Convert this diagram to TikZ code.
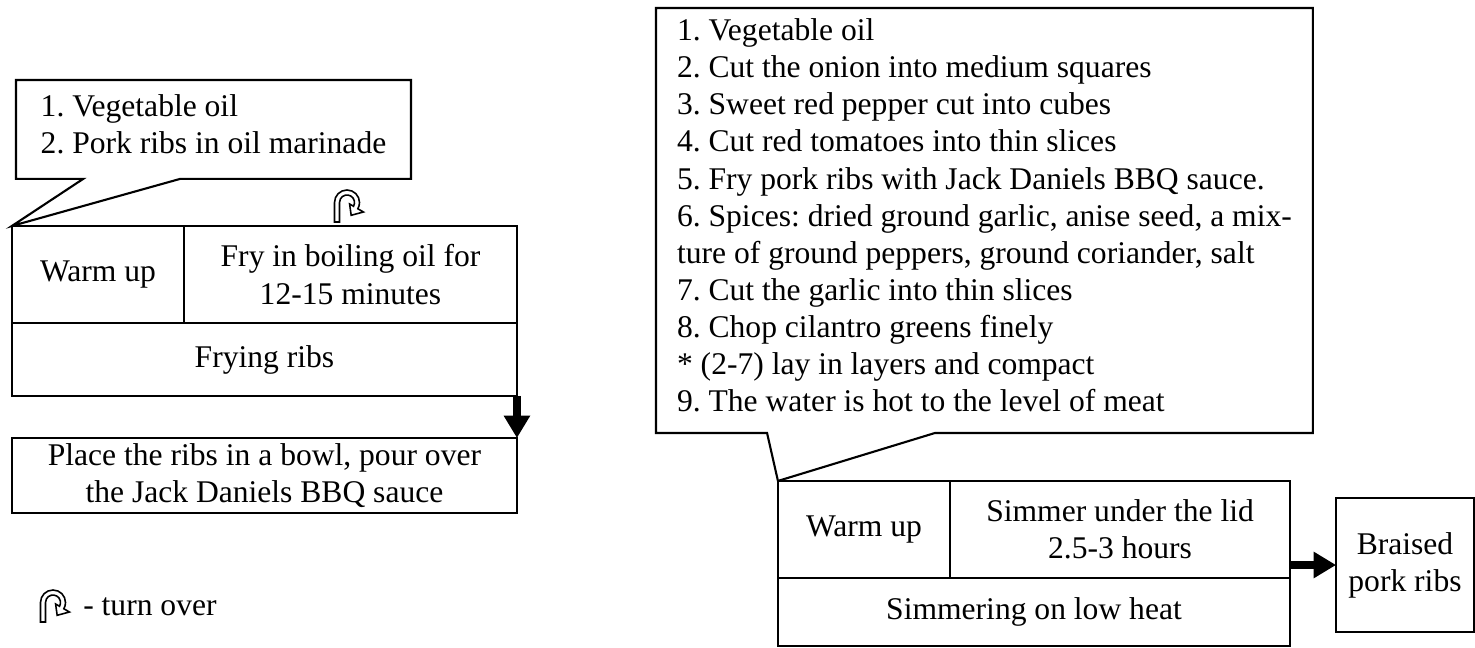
\documentclass[tikz,border=0pt]{standalone}
\usepackage{fontspec}
\setmainfont{Liberation Serif}
\usetikzlibrary{positioning,arrows.meta}
\frenchspacing

\begin{document}
\begin{tikzpicture}[x=0.38pt,y=-0.38pt,font=\fontsize{12}{14.1}\selectfont,
  cell/.style={draw=black,thick,outer sep=0pt,inner ysep=1pt,align=center},
  note/.style={outer sep=0pt,inner xsep=8pt,text depth=4pt,align=left,anchor=north west},
  outline/.style={draw=black,thick,line join=miter},
  flow/.style={line width=2.8pt,-{Triangle[width=9.5pt,length=8.5pt]}},
  turnover/.pic={\draw[semithick,yscale=-1] (0.5,0) -- (0.5,19.5) arc[start angle=180,end angle=-30,radius=12.5] -- (29.45,10) -- (17.16,6.7) -- (15.6,18) -- (19.5,15.75) arc[start angle=-30,end angle=180,radius=7.5] -- (5.5,0) -- cycle;}]

\useasboundingbox (0,0) rectangle (1475,648);

% frying
\node[cell,minimum width=65.4pt,minimum height=36.9pt]  (warm1)  at (98,274.5) {Warm up};
\node[cell,minimum width=126.5pt,minimum height=36.9pt] (fry)    [right=0pt of warm1] {Fry in boiling oil for\\12-15 minutes};
\node[cell,minimum width=191.9pt,minimum height=27.7pt] (frying) [below right=0pt and 0pt of warm1.south west] {Frying ribs};
\node[cell,minimum width=191.9pt,minimum height=28.5pt] (bowl)   [below=16pt of frying] {Place the ribs in a bowl, pour over\\the Jack Daniels BBQ sauce};

\node[note,minimum width=150.1pt,minimum height=37.6pt] (oilnote) at (16,80) {1. Vegetable oil\\2. Pork ribs in oil marinade};
\draw[outline] (oilnote.south west) -- (oilnote.north west) -- (oilnote.north east) -- (oilnote.south east)
  -- ([xshift=62.3pt]oilnote.south west) -- (warm1.north west) -- ([xshift=25.5pt]oilnote.south west) -- cycle;

\pic (flip1) at (334,222) {turnover};
\draw[flow] (frying.south east) -- (bowl.north east);

% simmering
\node[cell,minimum width=65.4pt,minimum height=36.9pt]  (warm2)     at (864,529.5) {Warm up};
\node[cell,minimum width=129.2pt,minimum height=36.9pt] (simmer)    [right=0pt of warm2] {Simmer under the lid\\2.5-3 hours};
\node[cell,minimum width=194.6pt,minimum height=25.8pt] (simmering) [below right=0pt and 0pt of warm2.south west] {Simmering on low heat};
\node[cell,minimum width=52.4pt,minimum height=50.9pt]  (braised)   at (1405,565) {Braised\\pork ribs};

\node[note,minimum height=161.5pt] (stewnote) at (656,8) {1. Vegetable oil\\2. Cut the onion into medium squares\\3. Sweet red pepper cut into cubes\\4. Cut red tomatoes into thin slices\\5. Fry pork ribs with Jack Daniels BBQ sauce.\\6. Spices: dried ground garlic, anise seed, a mix-\\ture of ground peppers, ground coriander, salt\\7. Cut the garlic into thin slices\\8. Chop cilantro greens finely\\* (2-7) lay in layers and compact\\9. The water is hot to the level of meat};
\draw[outline] (stewnote.south west) -- (stewnote.north west) -- (stewnote.north east) -- (stewnote.south east)
  -- ([xshift=106pt]stewnote.south west) -- (warm2.north west) -- ([xshift=42.2pt]stewnote.south west) -- cycle;

\draw[flow] (simmer.east |- braised.west) -- (braised.west);

% legend
\pic (flip2) at (40,622) {turnover};
\node[anchor=west] (legend) at (74,607) {- turn over};

\end{tikzpicture}
\end{document}
